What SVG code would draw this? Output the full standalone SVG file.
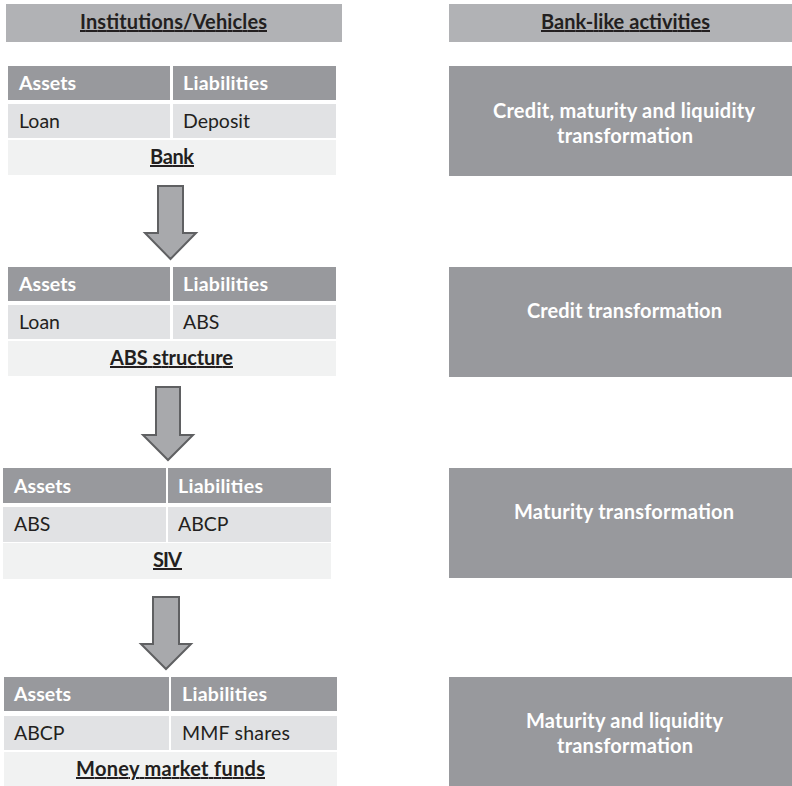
<svg xmlns="http://www.w3.org/2000/svg" width="792" height="786" viewBox="0 0 792 786">
<style>
.hdr{fill:#b1b2b5}
.th{fill:#98999d}
.r2{fill:#e1e2e4}
.r3{fill:#f1f2f2}
.act{fill:#98999d}
text{font-family:Lato,"Liberation Sans",sans-serif}
.t-hdr{font-size:20px;font-weight:bold;fill:#231f20;text-decoration:underline;text-anchor:middle}
.t-th{font-size:19.5px;font-weight:bold;fill:#ffffff}
.t-cell{font-size:19.5px;fill:#231f20}
.t-name{font-size:20px;font-weight:bold;fill:#231f20;text-decoration:underline;text-anchor:middle}
.t-act{font-size:20px;font-weight:bold;fill:#ffffff;text-anchor:middle}
.arrow{fill:#a8a9ac;stroke:#5f6062;stroke-width:2;stroke-linejoin:miter}
</style>
<rect width="792" height="786" fill="#ffffff"/>
<g id="header-left"><rect class="hdr" x="6" y="4" width="336" height="38"/><text class="t-hdr" x="173.5" y="29" textLength="187">Institutions/Vehicles</text></g>
<g id="header-right"><rect class="hdr" x="449" y="4" width="343" height="38"/><text class="t-hdr" x="625.5" y="29" textLength="169">Bank-like activities</text></g>

<g id="bank">
<rect class="th" x="8" y="66" width="162" height="34"/><rect class="th" x="173" y="66" width="163" height="34"/>
<rect class="r2" x="8" y="104" width="162" height="34"/><rect class="r2" x="173" y="104" width="163" height="34"/>
<rect class="r3" x="8" y="140" width="328" height="35"/>
<text class="t-th" x="19" y="90" textLength="57">Assets</text><text class="t-th" x="183" y="90" textLength="85">Liabilities</text>
<text class="t-cell" x="19" y="128" textLength="41">Loan</text><text class="t-cell" x="183" y="128" textLength="67">Deposit</text>
<text class="t-name" x="172" y="164" textLength="44">Bank</text>
</g>
<g id="abs">
<rect class="th" x="8" y="267" width="162" height="34"/><rect class="th" x="173" y="267" width="163" height="34"/>
<rect class="r2" x="8" y="305" width="162" height="34"/><rect class="r2" x="173" y="305" width="163" height="34"/>
<rect class="r3" x="8" y="341" width="328" height="35"/>
<text class="t-th" x="19" y="291" textLength="57">Assets</text><text class="t-th" x="183" y="291" textLength="85">Liabilities</text>
<text class="t-cell" x="19" y="329" textLength="41">Loan</text><text class="t-cell" x="183" y="329">ABS</text>
<text class="t-name" x="171.5" y="365" textLength="123">ABS structure</text>
</g>
<g id="siv">
<rect class="th" x="3" y="468" width="163" height="35"/><rect class="th" x="168" y="468" width="163" height="35"/>
<rect class="r2" x="3" y="507" width="163" height="35"/><rect class="r2" x="168" y="507" width="163" height="35"/>
<rect class="r3" x="3" y="543" width="328" height="36"/>
<text class="t-th" x="14" y="493" textLength="57">Assets</text><text class="t-th" x="178" y="493" textLength="85">Liabilities</text>
<text class="t-cell" x="14" y="531">ABS</text><text class="t-cell" x="178" y="531">ABCP</text>
<text class="t-name" x="167.5" y="567" textLength="29">SIV</text>
</g>
<g id="mmf">
<rect class="th" x="4" y="677" width="165" height="34"/><rect class="th" x="171" y="677" width="166" height="34"/>
<rect class="r2" x="4" y="716" width="165" height="34"/><rect class="r2" x="171" y="716" width="166" height="34"/>
<rect class="r3" x="4" y="752" width="333" height="34"/>
<text class="t-th" x="14" y="701" textLength="57">Assets</text><text class="t-th" x="182" y="701" textLength="85">Liabilities</text>
<text class="t-cell" x="14" y="740">ABCP</text><text class="t-cell" x="182" y="740" textLength="108">MMF shares</text>
<text class="t-name" x="170.5" y="776" textLength="189">Money market funds</text>
</g>

<g id="act1"><rect class="act" x="449" y="66" width="343" height="110"/><text class="t-act" x="624" y="118" textLength="262">Credit, maturity and liquidity</text><text class="t-act" x="625" y="143" textLength="136">transformation</text></g>
<g id="act2"><rect class="act" x="449" y="267" width="343" height="110"/><text class="t-act" x="624.5" y="318" textLength="195">Credit transformation</text></g>
<g id="act3"><rect class="act" x="449" y="468" width="343" height="110"/><text class="t-act" x="624" y="519" textLength="220">Maturity transformation</text></g>
<g id="act4"><rect class="act" x="449" y="677" width="343" height="109"/><text class="t-act" x="624.5" y="728" textLength="197">Maturity and liquidity</text><text class="t-act" x="625" y="753" textLength="136">transformation</text></g>

<g id="connectors">
<path class="arrow" d="M158,186 H183 V233 H196 L170.5,259 L145,233 H158 Z"/>
<path class="arrow" d="M156,387 H180 V435 H193 L168,460 L143,435 H156 Z"/>
<path class="arrow" d="M153,597 H179 V644 H191 L166,669 L141,644 H153 Z"/>
</g>
</svg>
